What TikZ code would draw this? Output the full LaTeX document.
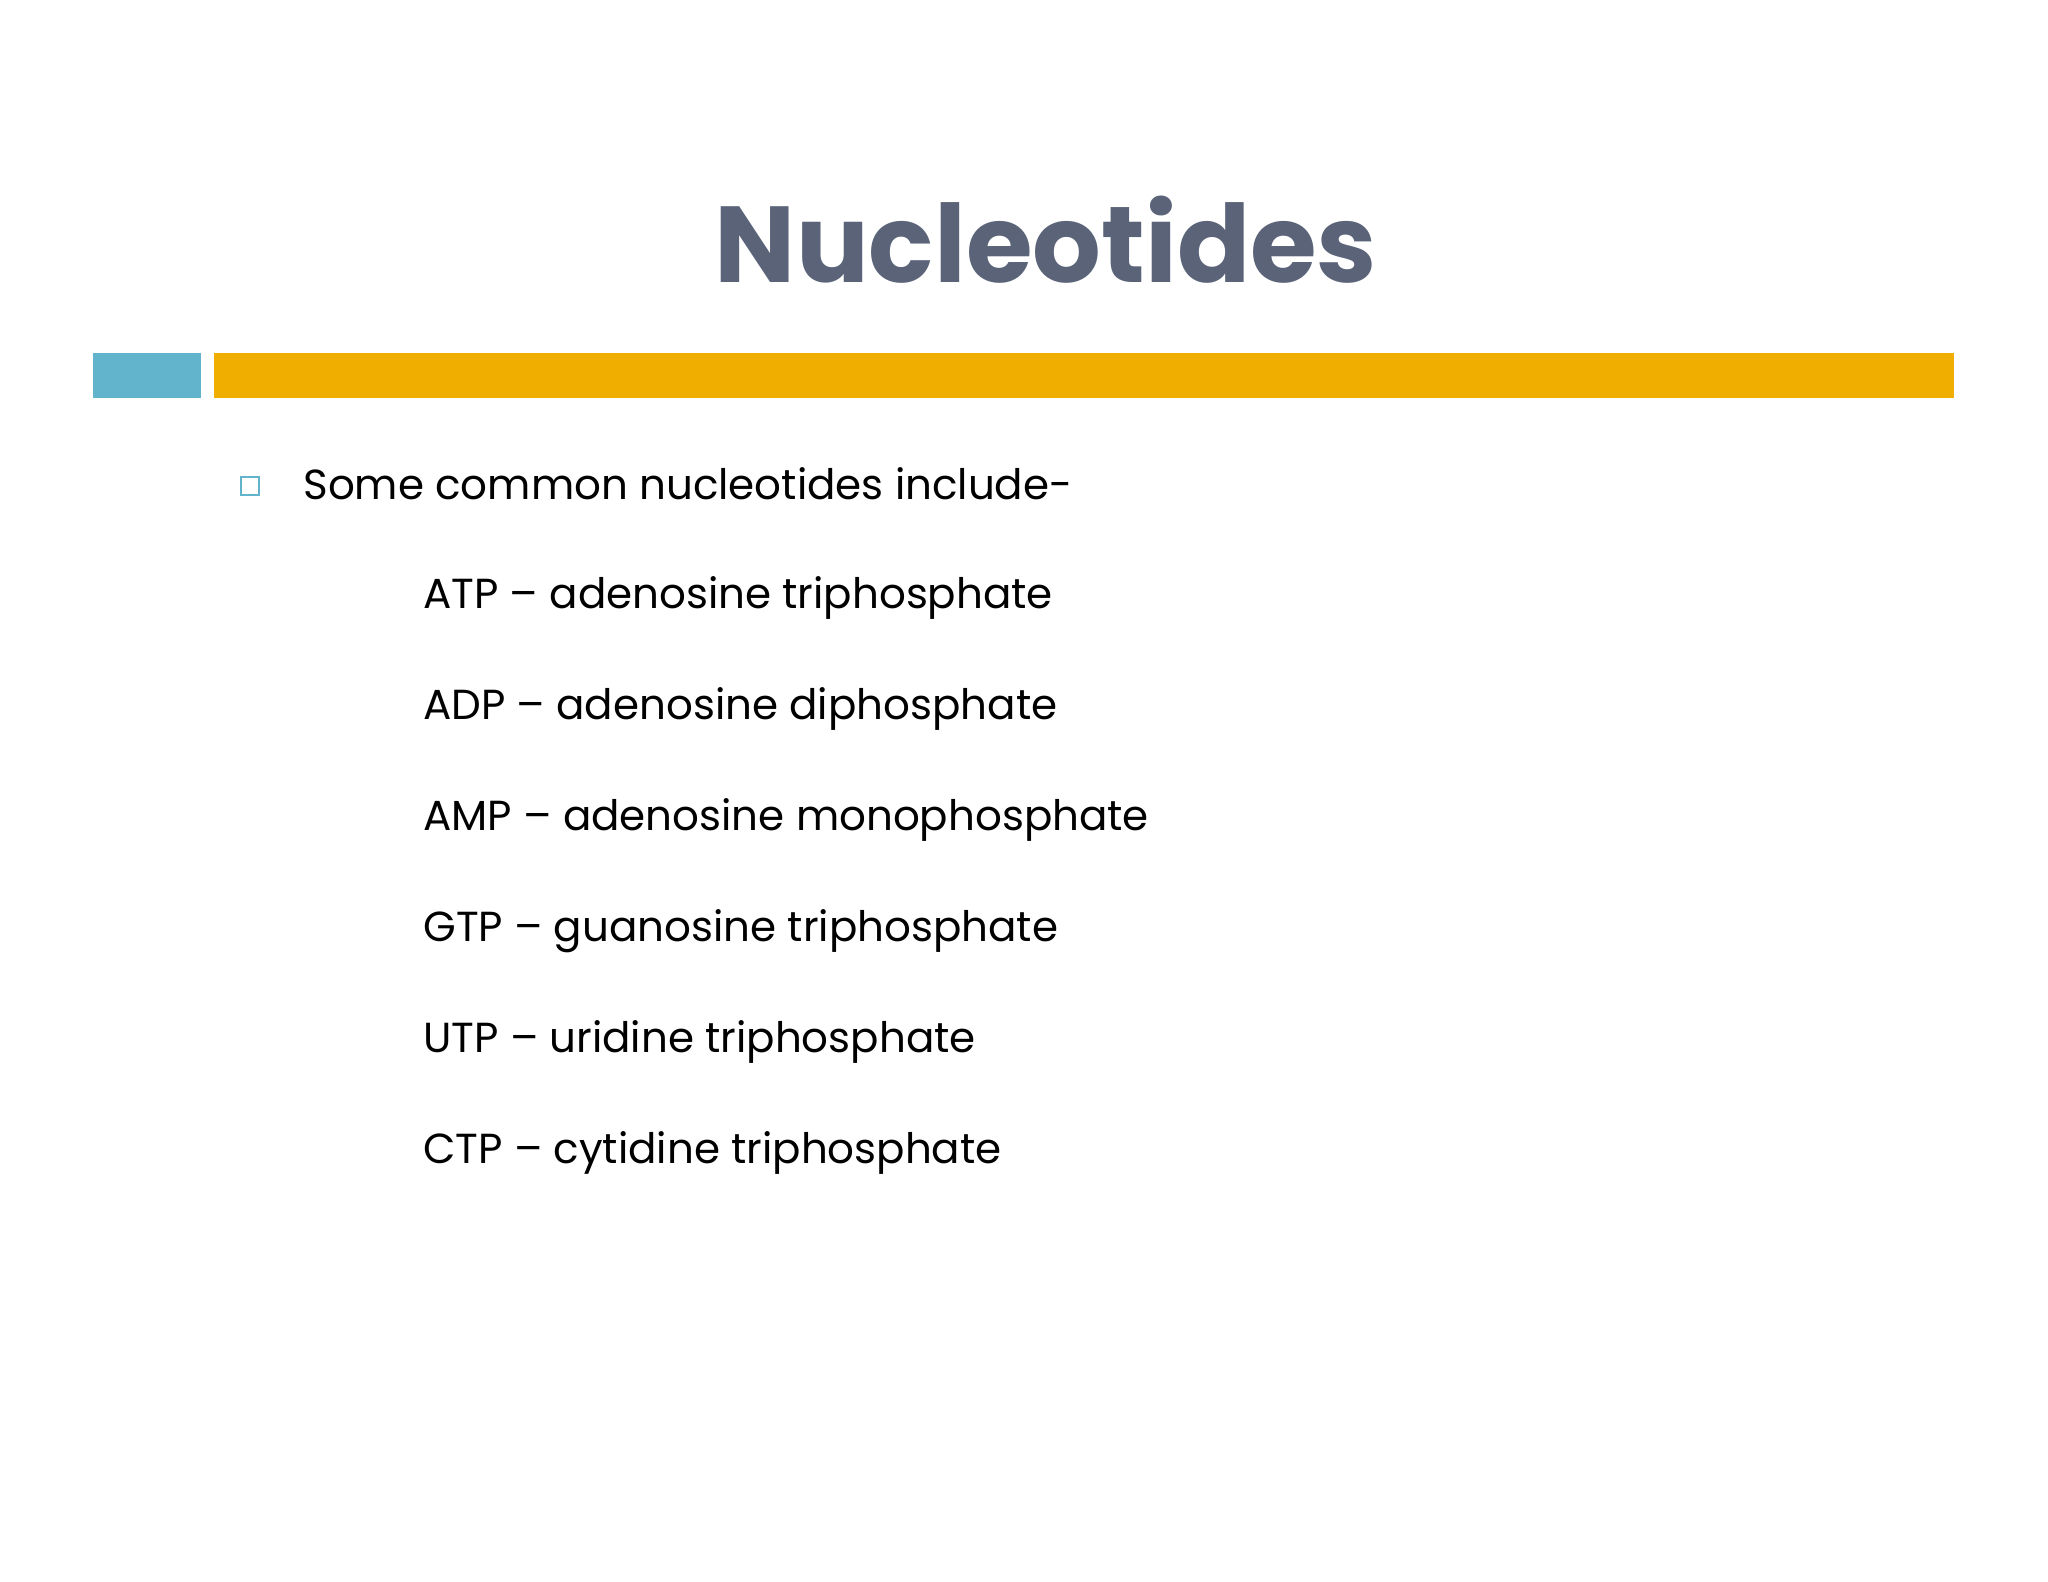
\documentclass[tikz,border=0pt]{standalone}
\usepackage{fontspec}
\setmainfont{Poppins}
\definecolor{titlec}{HTML}{5A6378}
\definecolor{bluec}{HTML}{62B4CC}
\definecolor{orangec}{HTML}{F0AE00}
\begin{document}
\begin{tikzpicture}[x=0.5pt,y=-0.5pt,
  item/.style={anchor=base west,inner sep=0,font=\fontsize{21}{25}\selectfont}]
\useasboundingbox (0,0) rectangle (2048,1582);
\node[font=\fontsize{54}{60}\bfseries\selectfont,text=titlec,anchor=base,inner sep=0] (title) at (1046,283) {Nucleotides};
\fill[bluec] (93,353) rectangle (201,398);
\fill[orangec] (214,353) rectangle (1954,398);
\node[draw=bluec,line width=0.8pt,minimum size=9pt,inner sep=0] (sq) at (250,486) {};
\node[item] (l0) at (303,500) {Some common nucleotides include-};
\node[item] (l1) at (423,608) {ATP – adenosine triphosphate};
\node[item] (l2) at (423,719) {ADP – adenosine diphosphate};
\node[item] (l3) at (423,830) {AMP – adenosine monophosphate};
\node[item] (l4) at (423,941) {GTP – guanosine triphosphate};
\node[item] (l5) at (423,1052) {UTP – uridine triphosphate};
\node[item] (l6) at (423,1163) {CTP – cytidine triphosphate};
\end{tikzpicture}
\end{document}
